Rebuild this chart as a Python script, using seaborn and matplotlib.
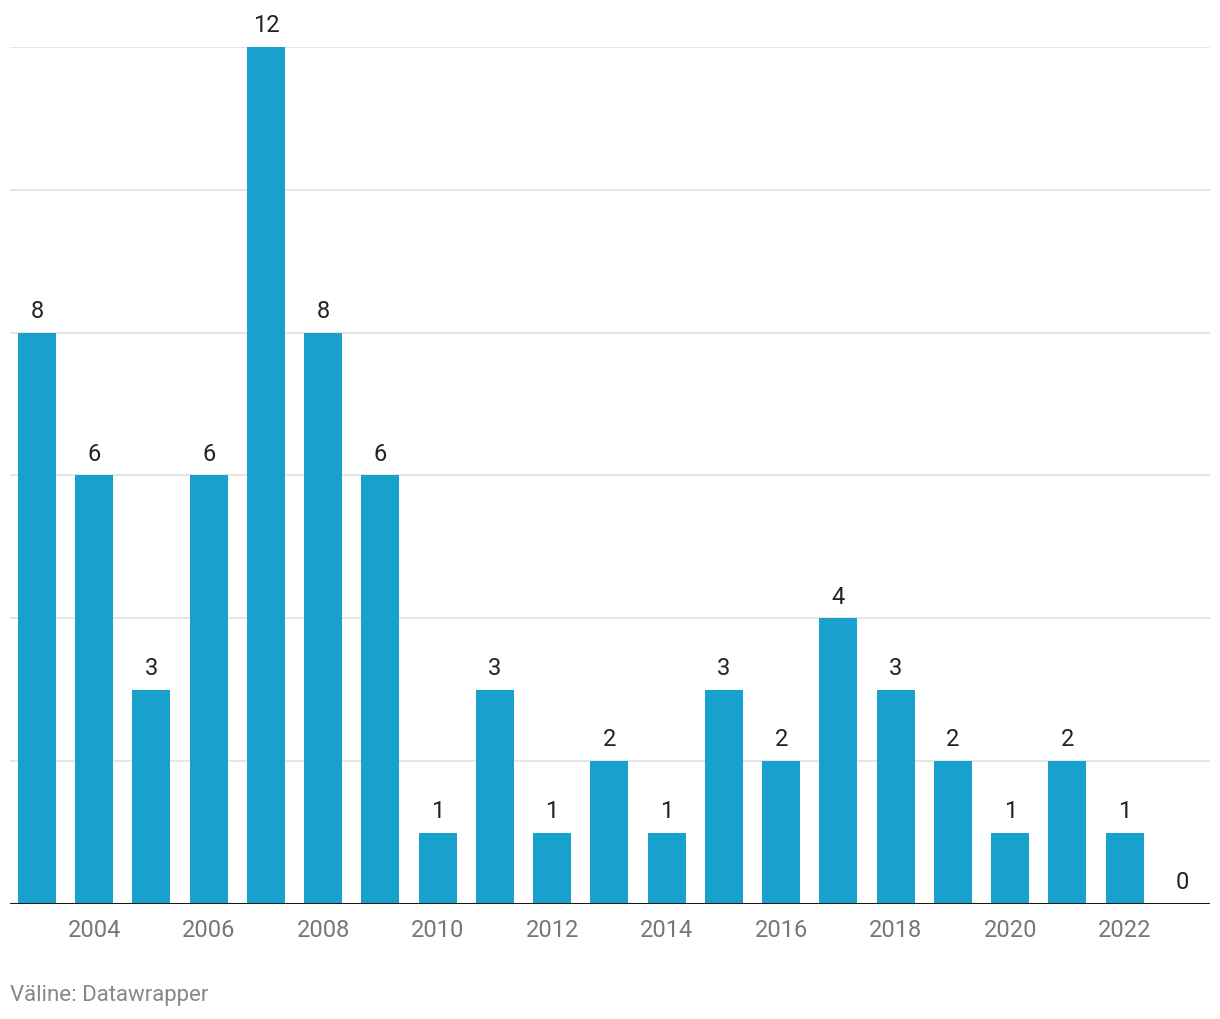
import pandas as pd
import numpy as np
import matplotlib.pyplot as plt
import seaborn as sns

years = list(range(2003, 2024))
counts = [8, 6, 3, 6, 12, 8, 6, 1, 3, 1, 2, 1, 3, 2, 4, 3, 2, 1, 2, 1, 0]
tick_years = [2004, 2006, 2008, 2010, 2012, 2014, 2016, 2018, 2020, 2022]
source = 'Väline: Datawrapper'

df = pd.DataFrame({'Aasta': [str(y) for y in years], 'Arv': counts})

sns.set_style('white')
plt.rcParams['font.family'] = ['Roboto', 'DejaVu Sans']

fig = plt.figure(figsize=(12.2, 10.2), dpi=100)
ax = fig.add_axes([0.0082, 0.1127, 0.9836, 0.8403])

# ruudustik
for v in [2, 4, 6, 8, 10, 12]:
    ax.axhline(v, color='#e3e3e3', lw=1.3, zorder=0)

sns.barplot(data=df, x='Aasta', y='Arv', color='#18a1cd', width=0.665,
            saturation=1, linewidth=0, ax=ax, zorder=2)

for i, c in enumerate(counts):
    ax.text(i, c + 0.15, str(c), ha='center', va='bottom', fontsize=17,
            color='#222222', clip_on=False)

ax.set_xlim(-0.47, 20.49)
ax.set_ylim(0, 12)
ax.axhline(0, color='#1a1a1a', lw=2.2, zorder=3)

ax.set_xticks([years.index(y) for y in tick_years])
ax.set_xticklabels([str(y) for y in tick_years], fontsize=17, color='#777777')
ax.tick_params(axis='x', length=0, pad=10)
ax.set_yticks([])
ax.set_xlabel('')
ax.set_ylabel('')
for s in ax.spines.values():
    s.set_visible(False)

fig.text(0.0082, 1 - 996 / 1020, source, ha='left', va='center',
         fontsize=16, color='#888888')

plt.savefig('out.png', dpi=100)
